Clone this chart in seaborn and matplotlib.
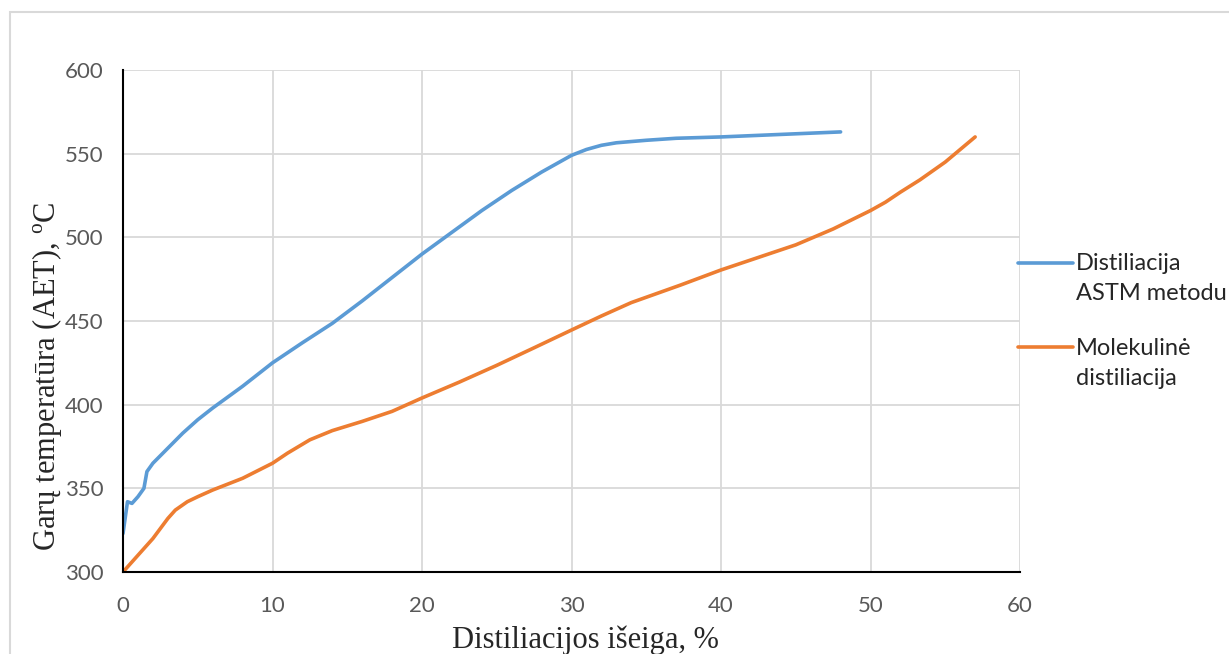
import pandas as pd
import numpy as np
import seaborn as sns
import matplotlib.pyplot as plt
from matplotlib.patches import Rectangle

# ASTM distiliacija (taškai nuskaityti nuo grafiko)
astm_x = [0, 0.3, 0.6, 1.0, 1.4, 1.5, 1.6, 2.0, 3.0, 4.0, 5.0, 6.0, 8.0, 10, 12, 14,
          16, 18, 20, 22, 24, 26, 28, 30, 31, 32, 33, 35, 37, 40, 44, 48]
astm_y = [323, 342, 341, 345, 350, 355, 360, 365, 374, 383, 391, 398, 411, 425, 437, 448.6,
          462, 476, 490, 503, 516, 528, 539, 549, 552.5, 555, 556.5, 558, 559.2, 560, 561.5, 563]

# Molekulinė distiliacija
mol_x = [0, 1, 2, 2.5, 3, 3.5, 4.3, 5, 6, 8, 10, 11, 12.5, 14, 16, 18, 20, 22.5, 25,
         27.5, 30, 32, 34, 37.3, 40, 42.5, 45, 47.5, 50, 51, 52, 53.3, 55, 57]
mol_y = [300, 310, 320, 326, 332, 337, 342, 345, 349, 356, 365, 371, 379, 384.5, 390, 396,
         404, 413.5, 423.5, 434, 444.6, 453, 461, 471.5, 480.5, 488, 495.5, 505, 516, 521,
         527, 534.3, 545, 560]

labels = ["Distiliacija\nASTM metodu", "Molekulinė\ndistiliacija"]
colors = ["#5B9BD5", "#ED7D31"]

df = pd.concat([
    pd.DataFrame({"x": astm_x, "y": astm_y, "serija": labels[0]}),
    pd.DataFrame({"x": mol_x, "y": mol_y, "serija": labels[1]}),
], ignore_index=True)

sns.set_theme(style="white")
plt.rcParams["font.family"] = ["Lato", "DejaVu Sans"]

fig = plt.figure(figsize=(12.29, 6.54), dpi=100)
ax = fig.add_axes([123 / 1229, 1 - 572 / 654, 897 / 1229, 502 / 654])

# rėmelis aplink visą diagramą
fig.add_artist(Rectangle((10 / 1229, -0.2), 1.2, 1.2 - 12 / 654,
                         transform=fig.transFigure, fill=False,
                         edgecolor="#d9d9d9", linewidth=1.5))

sns.lineplot(data=df, x="x", y="y", hue="serija", palette=colors, sort=False,
             estimator=None, linewidth=2.6, ax=ax)

ax.set_xlim(0, 60)
ax.set_ylim(300, 600)
ax.set_xticks(range(0, 61, 10))
ax.set_yticks(range(300, 601, 50))
ax.grid(True, color="#d9d9d9", linewidth=1.3)
ax.set_axisbelow(True)
for s in ["top", "right"]:
    ax.spines[s].set_visible(False)
for s in ["left", "bottom"]:
    ax.spines[s].set_color("black")
    ax.spines[s].set_linewidth(1.5)
    ax.spines[s].set_zorder(5)
ax.tick_params(axis="both", length=0, labelsize=16, labelcolor="#595959")
ax.tick_params(axis="x", pad=17)
ax.tick_params(axis="y", pad=14)

ax.set_xlabel("Distiliacijos išeiga, %", fontsize=22, family=["Liberation Serif"])
ax.set_ylabel("Garų temperatūra (AET), $^\\mathregular{o}$C", fontsize=22,
              family=["Liberation Serif"])
ax.xaxis.set_label_coords(0.515, -0.106)
ax.yaxis.set_label_coords(-0.066, 0.39)

leg = ax.legend(loc="center left", bbox_to_anchor=(0.998, 0.5), frameon=False,
                fontsize=17, handlelength=2.3, handletextpad=0.15, borderaxespad=0,
                borderpad=0, labelspacing=1.4)
for t in leg.get_texts():
    t.set_linespacing(1.56)
for line in leg.get_lines():
    line.set_linewidth(2.6)
    # linija lygiuojama su pirma teksto eilute, kaip Excel
    line.set_ydata(np.asarray(line.get_ydata()) + 11.7)

fig.savefig("out.png", dpi=100)
